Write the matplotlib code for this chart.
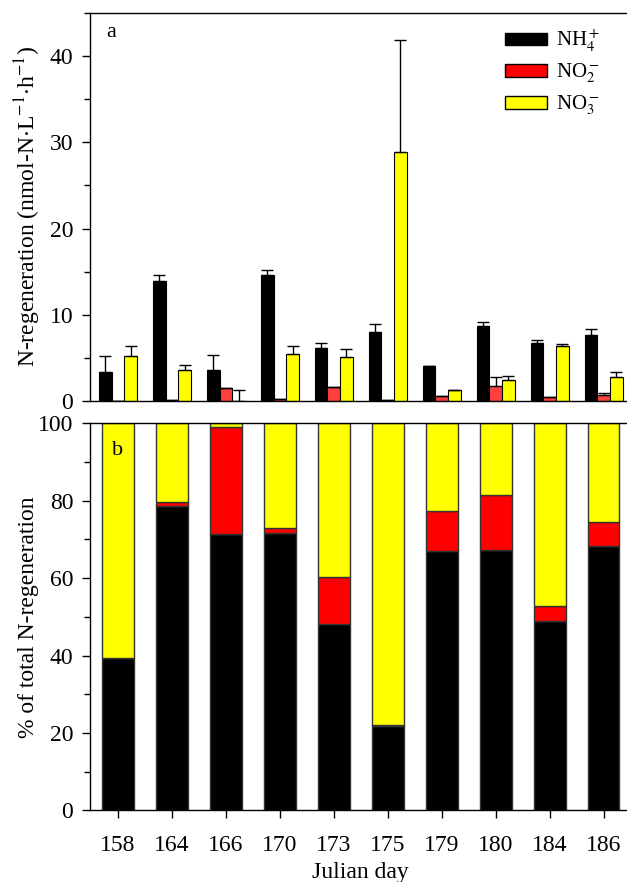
import numpy as np
import matplotlib
matplotlib.use("Agg")
import matplotlib.pyplot as plt
from matplotlib.ticker import MultipleLocator
from matplotlib.patches import Patch

plt.rcParams['font.family'] = ['Liberation Serif', 'DejaVu Serif']
plt.rcParams['mathtext.fontset'] = 'stix'

# data
days = ['158', '164', '166', '170', '173', '175', '179', '180', '184', '186']

# (a) rates, nmol-N L-1 h-1
nh4 = [3.4, 13.9, 3.6, 14.6, 6.2, 8.0, 4.0, 8.7, 6.7, 7.7]
nh4_err = [1.8, 0.75, 1.75, 0.6, 0.5, 0.9, 0.05, 0.5, 0.35, 0.6]
no2 = [0.0, 0.15, 1.45, 0.25, 1.65, 0.15, 0.58, 1.75, 0.5, 0.66]
no2_err = [0.0, 0.0, 0.0, 0.0, 0.0, 0.0, 0.0, 1.05, 0.0, 0.3]
no3 = [5.27, 3.6, 0.0, 5.5, 5.08, 28.9, 1.28, 2.44, 6.43, 2.83]
no3_err = [1.13, 0.55, 1.28, 0.85, 1.0, 13.0, 0.0, 0.5, 0.23, 0.57]

# (b) % of total
pct_nh4 = [39.5, 78.7, 71.3, 71.6, 48.2, 21.7, 66.9, 67.4, 49.0, 68.4]
pct_no2 = [0.0, 0.9, 27.7, 1.4, 12.1, 0.3, 10.4, 14.1, 3.8, 6.1]
pct_no3 = [60.5, 20.4, 1.0, 27.0, 39.7, 78.0, 22.7, 18.5, 47.2, 25.5]

x = np.arange(len(days))

fig = plt.figure(figsize=(6.27, 8.82), dpi=100)
ax1 = fig.add_axes([0.1435, 0.5454, 0.863, 0.4399])
ax2 = fig.add_axes([0.1435, 0.0811, 0.863, 0.4389])

w = 0.235
ekw = dict(lw=1, capsize=4.5, capthick=1, ecolor='black')
ax1.bar(x - w, nh4, w, color='black', edgecolor='black', lw=0.8,
        yerr=[np.zeros(10), nh4_err], error_kw=ekw)
ax1.bar(x, no2, w, color='#ff4040', edgecolor='black', lw=0.8,
        yerr=[np.zeros(10), no2_err], error_kw=ekw)
ax1.bar(x + w, no3, w, color='yellow', edgecolor='black', lw=0.8,
        yerr=[np.zeros(10), no3_err], error_kw=ekw)

ax1.set_xlim(-0.52, 9.51)
ax1.set_ylim(0, 45)
ax1.yaxis.set_major_locator(MultipleLocator(10))
ax1.yaxis.set_minor_locator(MultipleLocator(5))
ax1.set_xticks([])
ax1.set_ylabel('N-regeneration (nmol-N$\\cdot$L$^{-1}$$\\cdot$h$^{-1}$)', fontsize=17)
ax1.yaxis.set_label_coords(-0.086, 0.5)
ax1.text(0.03, 0.975, 'a', transform=ax1.transAxes, fontsize=16, va='top')

handles = [Patch(facecolor='black', edgecolor='black'),
           Patch(facecolor='red', edgecolor='black'),
           Patch(facecolor='yellow', edgecolor='black')]
ax1.legend(handles, ['NH$_4^+$', 'NO$_2^-$', 'NO$_3^-$'], loc='upper right',
           bbox_to_anchor=(0.966, 0.995), frameon=False, fontsize=15,
           handlelength=2.0, handleheight=0.55, labelspacing=0.4,
           handletextpad=0.45, borderaxespad=0.2)

bw = 0.59
ax2.bar(x, pct_nh4, bw, color='black', edgecolor='#333333', lw=1)
ax2.bar(x, pct_no2, bw, bottom=pct_nh4, color='red', edgecolor='#333333', lw=1)
ax2.bar(x, pct_no3, bw, bottom=np.array(pct_nh4) + np.array(pct_no2),
        color='yellow', edgecolor='#333333', lw=1)
ax2.set_xlim(-0.52, 9.51)
ax2.set_ylim(0, 100)
ax2.yaxis.set_major_locator(MultipleLocator(20))
ax2.yaxis.set_minor_locator(MultipleLocator(10))
ax2.set_xticks(x)
ax2.set_xticklabels(days)
ax2.set_ylabel('% of total N-regeneration', fontsize=17)
ax2.yaxis.set_label_coords(-0.094, 0.5)
ax2.set_xlabel('Julian day', fontsize=17, labelpad=4)
ax2.text(0.04, 0.955, 'b', transform=ax2.transAxes, fontsize=16, va='top')

for ax in (ax1, ax2):
    ax.tick_params(axis='both', which='major', direction='out', length=6,
                   width=1, labelsize=17)
    ax.tick_params(axis='y', which='major', pad=6)
    ax.tick_params(axis='x', which='major', pad=12)
    ax.tick_params(axis='y', which='minor', direction='out', length=4, width=1)
    for s in ax.spines.values():
        s.set_linewidth(1)

fig.savefig('out.png', dpi=100)
